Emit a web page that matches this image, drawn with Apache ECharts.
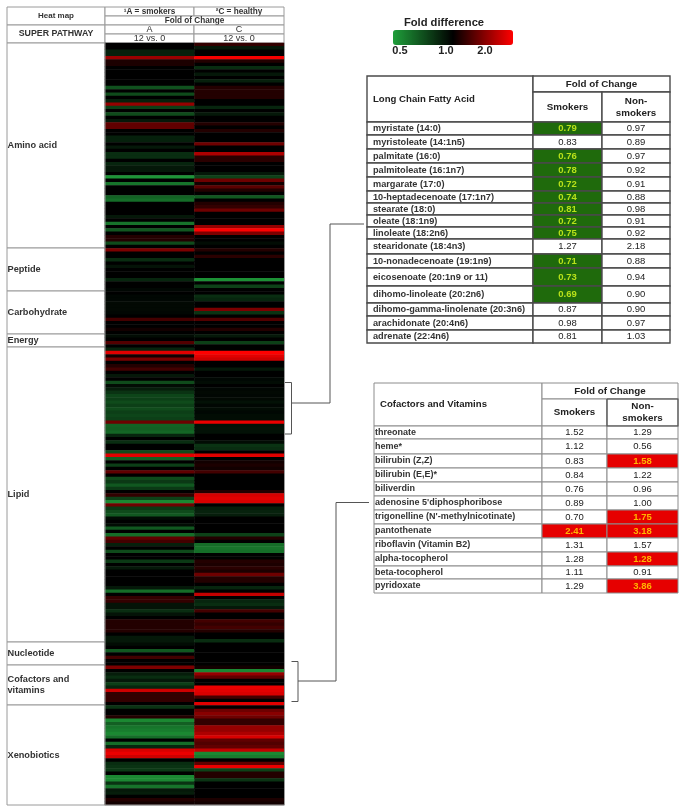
<!DOCTYPE html>
<html>
<head>
<meta charset="utf-8">
<style>
html,body{margin:0;padding:0;background:#fff}
#c{width:685px;height:812px;filter:blur(0.6px)}
</style>
<script src="https://cdn.jsdelivr.net/npm/echarts@6/dist/echarts.min.js"></script>
</head>
<body>
<div id="c"></div>
<script>
// ---------- heat map values: fold of change, one per metabolite row ----------
const columns = ['A', 'C'];
const aminoA = [1,1,.87,.87,1.52,1.08,1.08,1,1,1,
  1,1,1,.7,1,.72,1,.87,1.5,.76,
  1,.72,1,.9,1.3,1.3,1,1,.87,.87,
  1,.9,1,.82,.82,1,.85,.9,.9,1,
  .52,1,.6,1,1,1,.65,.62,1,1,
  1,1,.9,1,.6,1,.68,1,1.1,1.1,
  .72,1];
const aminoC = [1.15,.9,1,1,1.95,1.1,1,.82,1,.9,
  1,.87,1,1.1,1.1,1.1,1.1,1,1,.85,
  1,.9,1,1,1.1,1,1.1,1,1,1,
  1.35,1,1,1.6,1.12,1.12,1,1,1,.9,
  .75,1.35,1.05,1.28,1.1,1,.68,1,1.1,1.15,
  1.35,1,1,1,1,1.5,2,1.4,1,1,
  .95,1];
const peptideA = [1.4,1,1,.82,1,.92,1,1,1,.85,1,1,.97];
const peptideC = [1.1,1,1.12,1,1,1,1,1,1,.53,1,.75,1];
const carbA = [1,.97,.97,.96,.96,.96,.97,1,1.2,1,1,1.05,1];
const carbC = [1,.82,.85,1,1,1.4,.8,1,1.25,1,1,1.1,1];
const energyA = [.95,1,1.25,1];
const energyC = [.9,1,.76,1];
const lipidA = [.85,1.85,1.05,1.4,1,1.1,1.2,1,.9,1,
  .72,.95,.88,.8,.74,.76,.72,.76,.72,.76,
  .74,.76,1.35,.65,.66,.64,.85,1,.82,1,
  1,.72,1.85,.66,1,.76,1,1.3,1,.72,
  .78,.68,.78,1,1.15,.75,.55,1.35,.78,.72,
  .68,.95,1,.95,.68,1,.62,1.3,1.2,.87,
  1,.72,1,1,.78,1,.9,1,1,1,
  1,1,.9,.62,1,1.15,1.15,.92,.92,.82,
  .92,1,1.1,1.1,1.1,1.1,1,.9,.9];
const lipidC = [1,2,1.85,1.75,1,1,.9,1,1,.97,
  .95,1,.97,.96,.97,.96,.93,.97,.95,.97,
  .95,.95,1.9,.93,.92,.93,1,1,.95,.8,
  .82,1,1.85,1,1.05,1.08,1.05,1.2,1,1,
  1,1,1,1.1,1.8,1.85,1.8,1,.88,.86,
  .88,1,1,1,1,1,.75,1.1,1,.62,
  .6,.62,1,1,1.1,1.08,1.12,1.08,1.35,1.1,
  1.1,1,.85,1,1.7,1,.85,.82,.9,1.2,
  1,1,1.2,1.15,1.2,1.1,1,1,.82];
const nucleotideA = [.95,1,.68,1,1.2,1,1];
const nucleotideC = [1,1,1,1,1,1,1];
const cofactorA = [1.4,1,.88,.82,.9,.76,.85,1.75,1.15,1.15,1.15,1];
const cofactorC = [1.05,.55,1.5,1.3,1,1,1.9,1.85,1.8,1.2,1,1.85];
const xenoA = [.8,1,1,1.1,.55,.66,.6,.58,.55,.62,
  1,.62,.85,1.8,1.9,1.75,1,.82,.8,.78,
  1,.55,.55,.8,.6,.9,.88,1,1.1,1.05];
const xenoC = [1,1.35,1.45,1.35,1.15,1.15,1.5,1.5,1.6,1.8,
  1.3,1.25,1.3,1.7,.55,.58,1,1.3,1.9,.75,
  1.1,1.1,.8,1,1,1,1,1,1.08,1.05];

const pathways = ['Amino acid','Peptide','Carbohydrate','Energy','Lipid','Nucleotide','Cofactors and\nvitamins','Xenobiotics'];
const legendTitle = 'Fold difference';
const legendTicks = ['0.5','1.0','2.0'];

// ---------- table values ----------
const fattyNames = ['myristate (14:0)','myristoleate (14:1n5)','palmitate (16:0)','palmitoleate (16:1n7)','margarate (17:0)','10-heptadecenoate (17:1n7)','stearate (18:0)','oleate (18:1n9)','linoleate (18:2n6)','stearidonate (18:4n3)','10-nonadecenoate (19:1n9)','eicosenoate (20:1n9 or 11)','dihomo-linoleate (20:2n6)','dihomo-gamma-linolenate (20:3n6)','arachidonate (20:4n6)','adrenate (22:4n6)'];
const fattySmokers = ['0.79','0.83','0.76','0.78','0.72','0.74','0.81','0.72','0.75','1.27','0.71','0.73','0.69','0.87','0.98','0.81'];
const fattyNon = ['0.97','0.89','0.97','0.92','0.91','0.88','0.98','0.91','0.92','2.18','0.88','0.94','0.90','0.90','0.97','1.03'];
const fattySigSmokers = [1,0,1,1,1,1,1,1,1,0,1,1,1,0,0,0];
const fattySigNon = [0,0,0,0,0,0,0,0,0,0,0,0,0,0,0,0];

const vitNames = ['threonate','heme*','bilirubin (Z,Z)','bilirubin (E,E)*','biliverdin',"adenosine 5'diphosphoribose","trigonelline (N'-methylnicotinate)",'pantothenate','riboflavin (Vitamin B2)','alpha-tocopherol','beta-tocopherol','pyridoxate'];
const vitSmokers = ['1.52','1.12','0.83','0.84','0.76','0.89','0.70','2.41','1.31','1.28','1.11','1.29'];
const vitNon = ['1.29','0.56','1.58','1.22','0.96','1.00','1.75','3.18','1.57','1.28','0.91','3.86'];
const vitSigSmokers = [0,0,0,0,0,0,0,1,0,0,0,0];
const vitSigNon = [0,0,1,0,0,0,1,1,0,1,0,1];

// ---------- layout (not data) ----------
const FONT = '"Liberation Sans", Arial, sans-serif';
const heatCols = [aminoA.concat(peptideA,carbA,energyA,lipidA,nucleotideA,cofactorA,xenoA),
                  aminoC.concat(peptideC,carbC,energyC,lipidC,nucleotideC,cofactorC,xenoC)];
const heatData = [];
heatCols.forEach((col, c) => col.forEach((fold, r) => heatData.push([c, r, Math.log2(fold)])));

const leftX = [7,105,194,284], leftHeadY = [7,16,25,34,43];
const pathY = [43,248,291,334,347,642,665,705,805];
const t1X = [367,533,602,670], t1HeadY = [76,92,122];
const t1Y = [122,135,149,163,177,191,203,215,227,239,254,268,286,303,316,330,343];
const t2X = [374,542,607,678], t2HeadY = [383,399,426];
const t2Y = [426,439,454,468,482,496,510,524,538,552,566,579,593];

function cell(x0,x1,y0,y1,text,o){ return Object.assign({value:[x0,x1,y0,y1],text:text},o||{}); }

function leftCells(){
  const H={font:'bold 8.2px '+FONT,fill:'#333',center:true}, V={font:'9px '+FONT,fill:'#333',center:true}, cells=[];
  cells.push(cell(leftX[0],leftX[1],leftHeadY[0],leftHeadY[2],'Heat map',Object.assign({},H,{font:'bold 8px '+FONT})));
  cells.push(cell(leftX[0],leftX[1],leftHeadY[2],leftHeadY[4],'SUPER PATHWAY',Object.assign({},H,{font:'bold 8.8px '+FONT})));
  cells.push(cell(leftX[1],leftX[2],leftHeadY[0],leftHeadY[1],'\u00B9A = smokers',H));
  cells.push(cell(leftX[2],leftX[3],leftHeadY[0],leftHeadY[1],'\u00B2C = healthy',H));
  cells.push(cell(leftX[1],leftX[3],leftHeadY[1],leftHeadY[2],'Fold of Change',H));
  columns.forEach((n,i)=>{
    cells.push(cell(leftX[i+1],leftX[i+2],leftHeadY[2],leftHeadY[3],n,V));
    cells.push(cell(leftX[i+1],leftX[i+2],leftHeadY[3],leftHeadY[4],'12 vs. 0',V));
  });
  pathways.forEach((p,i)=>cells.push(cell(leftX[0],leftX[1],pathY[i],pathY[i+1],p,{font:'bold 9.2px '+FONT,fill:'#333',lineHeight:11,pad:0.5})));
  return cells;
}
function tableCells(X,HY,Y,title,names,a,b,sa,sb,fillSig,textSig,pad,nameSize){
  const H={font:'bold 9.8px '+FONT,fill:'#222',center:true}, cells=[];
  cells.push(cell(X[0],X[1],HY[0],HY[2],title,{font:'bold 9.6px '+FONT,fill:'#222',pad:6}));
  cells.push(cell(X[1],X[3],HY[0],HY[1],'Fold of Change',H));
  cells.push(cell(X[1],X[2],HY[1],HY[2],'Smokers',H));
  cells.push(cell(X[2],X[3],HY[1],HY[2],'Non-\nsmokers',Object.assign({lineHeight:12},H)));
  names.forEach((n,i)=>{
    cells.push(cell(X[0],X[1],Y[i],Y[i+1],n,{font:'bold '+nameSize+'px '+FONT,fill:'#333',pad:pad}));
    [[a,sa,1],[b,sb,2]].forEach(([vals,sig,k])=>{
      cells.push(cell(X[k],X[k+1],Y[i],Y[i+1],vals[i],sig[i]
        ?{font:'bold 9.5px '+FONT,fill:textSig,bg:fillSig,center:true}
        :{font:'9.5px '+FONT,fill:'#222',center:true}));
    });
  });
  return cells;
}
function renderCells(cells,stroke,lw){
  return function(params,api){
    const c=cells[params.dataIndex];
    const p0=api.coord([api.value(0),api.value(2)]), p1=api.coord([api.value(1),api.value(3)]);
    const tx=c.center?(p0[0]+p1[0])/2:p0[0]+(c.pad===undefined?1:c.pad);
    const ty=(p0[1]+p1[1])/2;
    return {type:'group',children:[
      {type:'rect',shape:{x:p0[0],y:p0[1],width:p1[0]-p0[0],height:p1[1]-p0[1]},
       style:{fill:c.bg||'#fff',stroke:stroke,lineWidth:lw}},
      {type:'text',style:{x:tx,y:ty,text:c.text,font:c.font,fill:c.fill,
        textAlign:c.center?'center':'left',align:c.center?'center':'left',
        textVerticalAlign:'middle',verticalAlign:'middle',lineHeight:c.lineHeight}}
    ]};
  };
}
function tableSeries(idx,cells,stroke,lw){
  return {type:'custom',xAxisIndex:idx,yAxisIndex:idx,clip:false,silent:true,
    renderItem:renderCells(cells,stroke,lw),
    encode:{x:[0,1],y:[2,3]},data:cells.map(c=>c.value)};
}
function boxGrid(x0,x1,y0,y1){return {left:x0,top:y0,width:x1-x0,height:y1-y0,show:false};}
function hiddenX(g,a,b){return {type:'value',gridIndex:g,min:a,max:b,show:false};}
function hiddenY(g,a,b){return {type:'value',gridIndex:g,min:a,max:b,inverse:true,show:false};}

const c1=leftCells();
const c2=tableCells(t1X,t1HeadY,t1Y,'Long Chain Fatty Acid',fattyNames,fattySmokers,fattyNon,fattySigSmokers,fattySigNon,'#1f6a0c','#b9e21a',6,9.2);
const c3=tableCells(t2X,t2HeadY,t2Y,'Cofactors and Vitamins',vitNames,vitSmokers,vitNon,vitSigSmokers,vitSigNon,'#e60000','#ffb400',1,9);

function poly(points,w,c){return {type:'polyline',shape:{points:points},style:{stroke:c||'#555',lineWidth:w||1,fill:null},silent:true,z:10};}
function txt(x,y,t,font,align){return {type:'text',style:{x:x,y:y,text:t,font:font,fill:'#222',textAlign:align||'center',align:align||'center',textVerticalAlign:'middle',verticalAlign:'middle'},silent:true};}

const chart=echarts.init(document.getElementById('c'),null,{renderer:'canvas',width:685,height:812});
chart.setOption({
  animation:false,
  backgroundColor:'#fff',
  grid:[boxGrid(leftX[0],leftX[3],leftHeadY[0],pathY[8]),
        boxGrid(t1X[0],t1X[3],t1HeadY[0],t1Y[16]),
        boxGrid(t2X[0],t2X[3],t2HeadY[0],t2Y[12]),
        boxGrid(leftX[1],leftX[3],pathY[0],pathY[8])],
  xAxis:[hiddenX(0,leftX[0],leftX[3]),hiddenX(1,t1X[0],t1X[3]),hiddenX(2,t2X[0],t2X[3]),
         {type:'category',gridIndex:3,data:columns,show:false}],
  yAxis:[hiddenY(0,leftHeadY[0],pathY[8]),hiddenY(1,t1HeadY[0],t1Y[16]),hiddenY(2,t2HeadY[0],t2Y[12]),
         {type:'category',gridIndex:3,inverse:true,show:false,data:heatCols[0].map((_,i)=>i)}],
  visualMap:{type:'continuous',seriesIndex:3,dimension:2,min:-1,max:1,orient:'horizontal',
    left:393,top:30,itemWidth:15,itemHeight:120,calculable:false,hoverLink:false,padding:0,
    inRange:{color:['#1f9e3a','#000000','#ff0000']}},
  series:[
    tableSeries(0,c1,'#9a9a9a',1),
    tableSeries(1,c2,'#4a4a4a',1.4),
    tableSeries(2,c3,'#8c8c8c',1),
    {type:'heatmap',xAxisIndex:3,yAxisIndex:3,data:heatData,silent:true,progressive:0,emphasis:{disabled:true}}
  ],
  graphic:[
    txt(444,23,legendTitle,'bold 11.2px '+FONT),
    txt(400,51,legendTicks[0],'bold 11px '+FONT),
    txt(446,51,legendTicks[1],'bold 11px '+FONT),
    txt(485,51,legendTicks[2],'bold 11px '+FONT),
    poly([[105,43],[105,805],[284.5,805],[284.5,43]],1,'#9a9a9a'),
    poly([[285,382.5],[291.5,382.5],[291.5,434],[285,434]]),
    poly([[291.5,403],[330,403],[330,224],[364,224]]),
    poly([[291.5,661.5],[298,661.5],[298,701.5],[291.5,701.5]]),
    poly([[298,681],[336,681],[336,502.5],[369,502.5]]),
    poly([[607,399],[678,399],[678,426],[607,426],[607,399]],1.2)
  ]
});
</script>
</body>
</html>
